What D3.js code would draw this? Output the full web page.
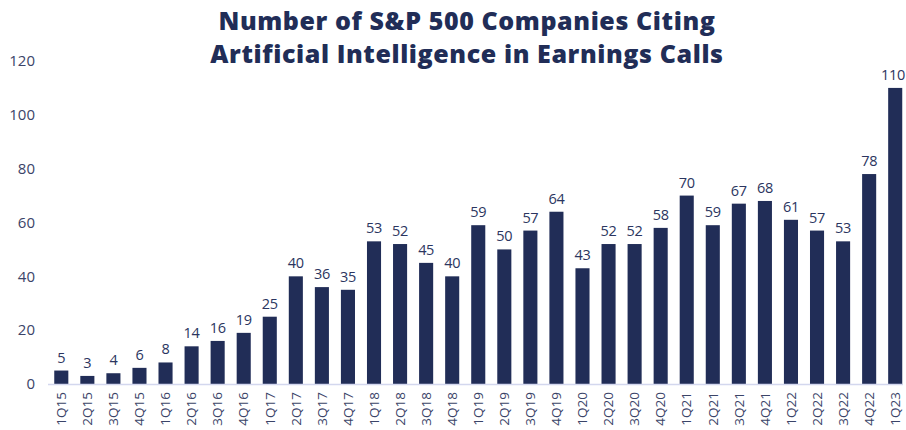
<!DOCTYPE html>
<meta charset="utf-8">
<script src="https://cdnjs.cloudflare.com/ajax/libs/d3/7.8.5/d3.min.js"></script>
<style>
body { margin: 0; background: #fff; }
text { font-family: "Open Sans", sans-serif; }
</style>
<body>
<script>

var quarters = ["1Q15","2Q15","3Q15","4Q15","1Q16","2Q16","3Q16","4Q16","1Q17","2Q17","3Q17","4Q17",
  "1Q18","2Q18","3Q18","4Q18","1Q19","2Q19","3Q19","4Q19","1Q20","2Q20","3Q20","4Q20",
  "1Q21","2Q21","3Q21","4Q21","1Q22","2Q22","3Q22","4Q22","1Q23"];
var counts = [5,3,4,6,8,14,16,19,25,40,36,35,53,52,45,40,59,50,57,64,43,52,52,58,70,59,67,68,61,57,53,78,110];
var yTicks = [0,20,40,60,80,100,120];
var titleLines = ["Number of S&P 500 Companies Citing", "Artificial Intelligence in Earnings Calls"];

var W = 906, H = 430;
var navy = "#212d57";

var svg = d3.select("body").append("svg")
  .attr("width", W)
  .attr("height", H);

var x = d3.scaleBand()
  .domain(quarters)
  .range([48, 908.5])
  .paddingInner(0.46)
  .paddingOuter(0.24);

var y = d3.scaleLinear()
  .domain([0, 120])
  .range([384, 61]);

// title
svg.append("g").selectAll("text")
  .data(titleLines).enter()
  .append("text")
  .attr("x", 467)
  .attr("y", function(d, i) { return 30 + i * 33; })
  .attr("text-anchor", "middle")
  .style("font-size", "25px")
  .style("font-weight", 800)
  .style("letter-spacing", "0.6px")
  .style("fill", navy)
  .text(function(d) { return d; });

// y axis labels (no line)
var yAxis = svg.append("g")
  .attr("transform", "translate(35,0)")
  .call(d3.axisLeft(y).tickValues(yTicks).tickSize(0).tickPadding(0));
yAxis.select(".domain").remove();
yAxis.selectAll("text")
  .style("font-family", "'Open Sans', sans-serif")
  .style("font-size", "15px")
  .style("fill", "#3b4468");

// bars
svg.append("g").selectAll("rect")
  .data(counts).enter()
  .append("rect")
  .attr("x", function(d, i) { return x(quarters[i]); })
  .attr("y", function(d) { return y(d); })
  .attr("width", x.bandwidth())
  .attr("height", function(d) { return y(0) - y(d); })
  .style("fill", navy);

// value labels (kept inside the right edge)
svg.append("g").selectAll("text")
  .data(counts).enter()
  .append("text")
  .attr("x", function(d, i) { return Math.min(x(quarters[i]) + x.bandwidth() / 2, W - 13); })
  .attr("y", function(d) { return y(d) - 8; })
  .attr("text-anchor", "middle")
  .style("font-size", "14.5px")
  .style("letter-spacing", "-0.3px")
  .style("fill", "#2b3560")
  .text(function(d) { return d; });

// baseline
svg.append("line")
  .attr("x1", 48).attr("x2", 903)
  .attr("y1", y(0) + 0.5).attr("y2", y(0) + 0.5)
  .style("stroke", "#d3d7ee")
  .style("stroke-width", 1.5);

// x axis labels
var xAxis = svg.append("g")
  .attr("transform", "translate(0," + y(0) + ")")
  .call(d3.axisBottom(x).tickSize(0).tickPadding(0));
xAxis.select(".domain").remove();
xAxis.selectAll("text")
  .attr("transform", "rotate(-90)")
  .attr("x", -8)
  .attr("y", 0)
  .attr("dy", "0.35em")
  .style("text-anchor", "end")
  .style("font-family", "'Open Sans', sans-serif")
  .style("font-size", "13.5px")
  .style("fill", "#3b4468");

</script>
</body>
</html>
